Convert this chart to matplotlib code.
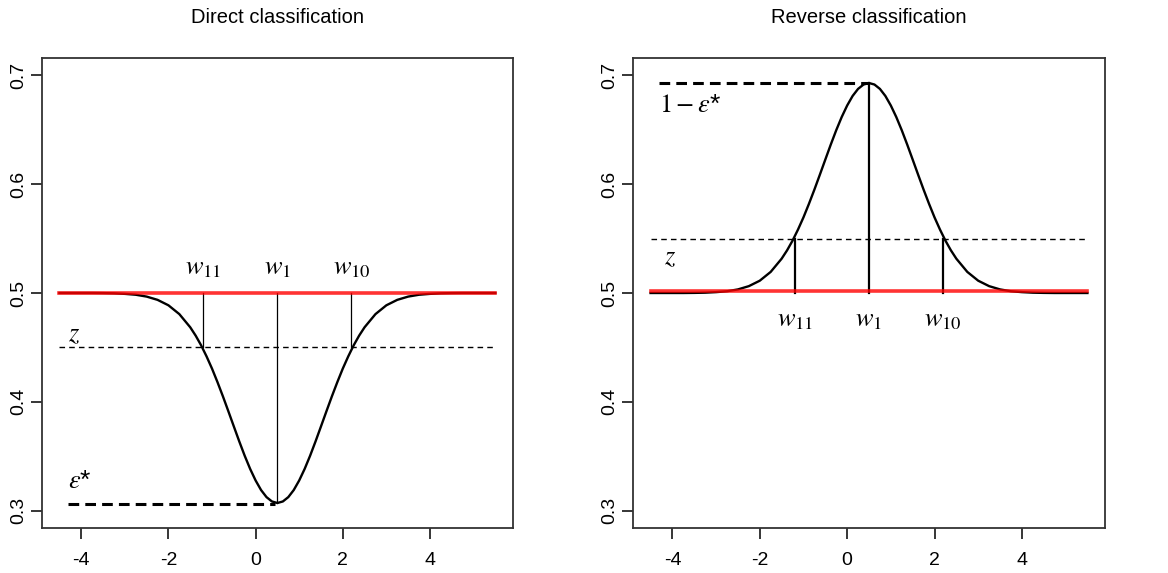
import numpy as np
import matplotlib.pyplot as plt

plt.rcParams['font.family'] = ['Liberation Sans', 'DejaVu Sans']
plt.rcParams['mathtext.fontset'] = 'stix'
plt.rcParams['axes.unicode_minus'] = False

# sampling positions of the curves (denser around the centre)
x = np.concatenate([np.arange(-4.5, -1.6, 0.25),
                    np.arange(-1.5, 2.51, 0.125),
                    np.arange(2.75, 5.51, 0.25)])

# Direct classification: error curve, dips from 0.5 to eps* at x=0.5
direct = [0.5, 0.5, 0.5, 0.5, 0.4999, 0.4997, 0.4992, 0.4984, 0.4967, 0.4937,
          0.4887, 0.4806,
          0.4685, 0.4608, 0.4519, 0.4417, 0.4305, 0.4181, 0.4050, 0.3913,
          0.3774, 0.3636, 0.3504, 0.3383, 0.3277, 0.3189, 0.3124, 0.3084,
          0.307,
          0.3084, 0.3124, 0.3189, 0.3277, 0.3383, 0.3504, 0.3636, 0.3774,
          0.3913, 0.4050, 0.4181, 0.4305, 0.4417, 0.4519, 0.4608, 0.4685,
          0.4806, 0.4887, 0.4937, 0.4967, 0.4984, 0.4992, 0.4997, 0.4999,
          0.5, 0.5, 0.5, 0.5]
# Reverse classification: mirrored curve, peaks at 1 - eps*
reverse = [0.5, 0.5, 0.5, 0.5, 0.5001, 0.5003, 0.5008, 0.5016, 0.5033, 0.5063,
           0.5113, 0.5194,
           0.5315, 0.5392, 0.5481, 0.5583, 0.5695, 0.5819, 0.5950, 0.6087,
           0.6226, 0.6364, 0.6496, 0.6617, 0.6723, 0.6811, 0.6876, 0.6916,
           0.693,
           0.6916, 0.6876, 0.6811, 0.6723, 0.6617, 0.6496, 0.6364, 0.6226,
           0.6087, 0.5950, 0.5819, 0.5695, 0.5583, 0.5481, 0.5392, 0.5315,
           0.5194, 0.5113, 0.5063, 0.5033, 0.5016, 0.5008, 0.5003, 0.5001,
           0.5, 0.5, 0.5, 0.5]

w_pos = [-1.2, 0.5, 2.2]
w_labels = ['$w_{11}$', '$w_1$', '$w_{10}$']
z_direct = 0.45
z_reverse = 0.55
eps_star = 0.307
baseline = 0.5

fig = plt.figure(figsize=(11.68, 5.73), dpi=100)
ax1 = fig.add_axes([0.036, 0.0785, 0.403, 0.8203])
ax2 = fig.add_axes([0.542, 0.0785, 0.404, 0.8203])


def style(ax, title):
    ax.set_xlim(-4.9, 5.9)
    ax.set_ylim(0.284, 0.716)
    ax.set_xticks([-4, -2, 0, 2, 4])
    ax.set_yticks([0.3, 0.4, 0.5, 0.6, 0.7])
    ax.set_yticklabels(['0.3', '0.4', '0.5', '0.6', '0.7'], rotation=90, va='center')
    ax.tick_params(length=8, width=1.1, labelsize=14)
    ax.tick_params(axis='x', pad=9)
    ax.tick_params(axis='y', pad=3)
    for s in ax.spines.values():
        s.set_linewidth(1.3)
        s.set_color('#333333')
    ax.set_title(title, fontsize=14.5, pad=25)


# left panel
ax1.plot(x, direct, color='black', lw=1.7, zorder=2)
ax1.plot([x[0], x[-1]], [z_direct, z_direct], color='black', lw=1, ls=(0, (4, 3)))
for wx in w_pos:
    ylow = eps_star if wx == 0.5 else z_direct
    ax1.plot([wx, wx], [ylow, baseline], color='black', lw=0.9)
ax1.plot([x[0], x[-1]], [baseline, baseline], color='red', lw=2.6, alpha=0.8, zorder=3)
ax1.plot([-4.3, 0.45], [eps_star - 0.001, eps_star - 0.001], color='black', lw=2.2,
         ls=(0, (3.5, 2)))
for wx, lab in zip(w_pos, w_labels):
    ax1.text(wx, 0.512, lab, fontsize=19, ha='center', va='bottom')
ax1.text(-4.3, 0.462, '$z$', fontsize=19, ha='left', va='center')
ax1.text(-4.3, 0.327, r'$\varepsilon$*', fontsize=19, ha='left', va='center')
style(ax1, 'Direct classification')

# right panel
ax2.plot(x, reverse, color='black', lw=1.7, zorder=2)
ax2.plot([x[0], x[-1]], [z_reverse, z_reverse], color='black', lw=1, ls=(0, (4, 3)))
for wx in w_pos:
    yhigh = 1 - eps_star if wx == 0.5 else z_reverse
    ax2.plot([wx, wx], [baseline, yhigh], color='black', lw=1.6)
ax2.plot([x[0], x[-1]], [baseline + 0.002, baseline + 0.002], color='red', lw=2.6,
         alpha=0.8, zorder=3)
ax2.plot([-4.3, 0.48], [1 - eps_star, 1 - eps_star], color='black', lw=2.2,
         ls=(0, (3.5, 2)))
for wx, lab in zip(w_pos, w_labels):
    ax2.text(wx, 0.486, lab, fontsize=19, ha='center', va='top')
ax2.text(-4.2, 0.533, '$z$', fontsize=19, ha='left', va='center')
ax2.text(-4.3, 0.673, r'$1 - \varepsilon$*', fontsize=19, ha='left', va='center')
style(ax2, 'Reverse classification')

fig.savefig('out.png', dpi=100)
